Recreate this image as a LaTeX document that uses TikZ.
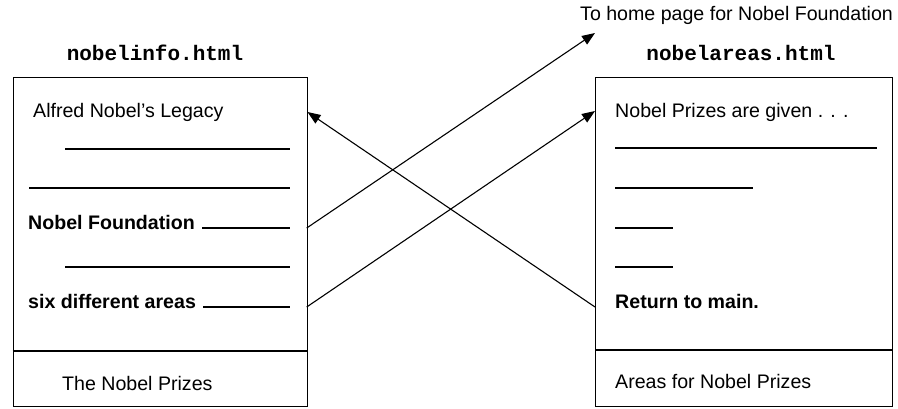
\documentclass[tikz,border=0pt]{standalone}
\usepackage{fontspec}
\setmainfont{Liberation Sans}
\setmonofont{Liberation Mono}
\usetikzlibrary{arrows.meta}
\begin{document}
\begin{tikzpicture}[x=1pt,y=-1pt,
  page/.style={draw, line width=1.2pt, inner sep=0pt, anchor=north west},
  txt/.style={anchor=base west, inner sep=0pt, font=\fontsize{19.6}{22}\selectfont},
  boldtxt/.style={txt, font=\fontsize{19.6}{22}\selectfont\bfseries},
  fname/.style={anchor=base, inner sep=0pt, font=\fontsize{21}{24}\selectfont\ttfamily\bfseries},
  link/.style={-{Triangle[length=13pt,width=10pt]}, line width=1.1pt},
  rule/.style={line width=1.1pt}]
\useasboundingbox (0,0) rectangle (898,408);

% ---- nobelinfo.html page ----
\node[fname] (infoname) at (155,60) {nobelinfo.html};
\node[page, minimum width=294pt, minimum height=329.3pt] (info) at (12.7,76.7) {};
\draw[line width=1.2pt] (12.7,351) -- (306.7,351);
\node[txt] (legacy) at (33,117) {Alfred Nobel's Legacy};
\draw[rule] (65,149) -- (290,149);
\draw[rule] (29,188) -- (290,188);
\node[boldtxt] (found) at (28,229) {Nobel Foundation};
\draw[rule] (202,228) -- (290,228);
\draw[rule] (65,267) -- (290,267);
\node[boldtxt] (six) at (28,308) {six different areas};
\draw[rule] (203,307) -- (290,307);
\node[txt] (prizes) at (62,390) {The Nobel Prizes};

% ---- nobelareas.html page ----
\node[txt] (home) at (580,20) {To home page for Nobel Foundation};
\node[fname] (areasname) at (741,60) {nobelareas.html};
\node[page, minimum width=297pt, minimum height=329.3pt] (areas) at (595,76.7) {};
\draw[line width=1.2pt] (595,350) -- (892,350);
\node[txt] (given) at (615,117) {Nobel Prizes are given . . .};
\draw[rule] (615,148) -- (877,148);
\draw[rule] (615,188) -- (753,188);
\draw[rule] (615,228) -- (673,228);
\draw[rule] (615,267) -- (673,267);
\node[boldtxt] (ret) at (615,308) {Return to main.};
\node[txt] (areastitle) at (615,388) {Areas for Nobel Prizes};

% ---- link end points on the page edges ----
\coordinate (foundOut) at (306.7,228);
\coordinate (sixOut) at (306.7,307);
\coordinate (retOut) at (595,307);
\coordinate (homeIn) at (595,33);
\coordinate (areasIn) at (595,111);
\coordinate (infoIn) at (307.5,112);

% ---- hyperlinks ----
\draw[link] (foundOut) -- (homeIn);
\draw[link] (sixOut) -- (areasIn);
\draw[link] (retOut) -- (infoIn);
\end{tikzpicture}
\end{document}
